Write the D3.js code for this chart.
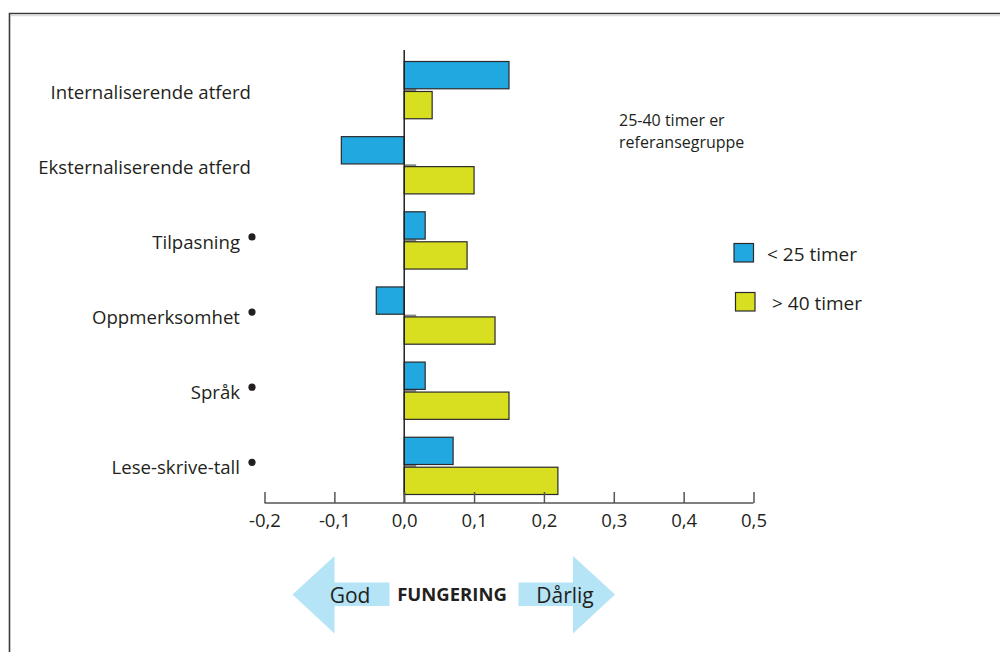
<!DOCTYPE html>
<html><head><meta charset="utf-8">
<script src="https://cdn.jsdelivr.net/npm/d3@7"></script>
<style>
html,body{margin:0;padding:0;background:#fff;}
svg text{font-family:"Open Sans","Noto Sans",sans-serif;fill:#231f20;}
</style></head>
<body><svg id="c" width="1000" height="652"></svg>
<script>
const categories = ["Internaliserende atferd","Eksternaliserende atferd","Tilpasning","Oppmerksomhet","Språk","Lese-skrive-tall"];
const marked = [false,false,true,true,true,true];
const seriesNames = ["< 25 timer","> 40 timer"];
const under25 = [0.15,-0.09,0.03,-0.04,0.03,0.07];
const over40 = [0.04,0.10,0.09,0.13,0.15,0.22];
const tickValues = [-0.2,-0.1,0.0,0.1,0.2,0.3,0.4,0.5];
const colors = ["#22a8e0","#d8df21"];

const svg = d3.select("#c");
// frame
svg.append("path").attr("d","M9.5,652 V13.5 H1000").attr("fill","none").attr("stroke","#3a3a3a").attr("stroke-width",1.6);
svg.append("line").attr("x1",11).attr("x2",1000).attr("y1",15.5).attr("y2",15.5).attr("stroke","#ddd").attr("stroke-width",1.5);

const x = d3.scaleLinear().domain([-0.2,0.5]).range([264.5,753.5]);
const y = d3.scaleBand().domain(categories).range([61.5,494.5]).paddingInner(0.238).paddingOuter(0);
const ySub = d3.scaleBand().domain(seriesNames).range([0,y.bandwidth()]).paddingInner(0.09);

const data = [];
categories.forEach((c,i)=>{
  data.push({cat:c,s:seriesNames[0],v:under25[i],col:colors[0]});
  data.push({cat:c,s:seriesNames[1],v:over40[i],col:colors[1]});
});

// small gray stubs between bars
svg.selectAll(".stub").data(categories).join("line")
  .attr("x1",x(0)).attr("x2",x(0)+12)
  .attr("y1",d=>y(d)+y.bandwidth()/2).attr("y2",d=>y(d)+y.bandwidth()/2)
  .attr("stroke","#888").attr("stroke-width",2);

svg.selectAll(".bar").data(data).join("rect")
  .attr("x",d=>x(Math.min(0,d.v)))
  .attr("width",d=>Math.abs(x(d.v)-x(0)))
  .attr("y",d=>y(d.cat)+ySub(d.s))
  .attr("height",ySub.bandwidth())
  .attr("fill",d=>d.col).attr("stroke","#2a2a2a").attr("stroke-width",1.2);

// zero line
svg.append("line").attr("x1",x(0)).attr("x2",x(0)).attr("y1",50).attr("y2",503)
  .attr("stroke","#231f20").attr("stroke-width",1.5);

// axis
const axis = d3.axisTop(x).tickValues(tickValues).tickSize(11).tickFormat(d=>d3.format(".1f")(d).replace(".",",").replace("−","-"));
const gx = svg.append("g").attr("transform","translate(0,503)").call(axis);
gx.select(".domain").attr("stroke","#555").attr("stroke-width",1.5).attr("d","M"+x(-0.2)+",0H"+x(0.5));
gx.selectAll(".tick line").attr("stroke","#555").attr("stroke-width",1.5);
gx.selectAll(".tick text").attr("y",18).attr("dy","0.35em").attr("font-size",18.5)
  .style("font-family",'"Open Sans",sans-serif').attr("fill","#231f20");

// category labels
svg.selectAll(".lab").data(categories).join("text")
  .attr("x",(d,i)=>marked[i]?240:251)
  .attr("y",d=>y(d)+y.bandwidth()/2+2)
  .attr("dy","0.35em").attr("text-anchor","end").attr("font-size",18.6)
  .text(d=>d);
svg.selectAll(".dot").data(categories.filter((d,i)=>marked[i])).join("circle")
  .attr("cx",252).attr("cy",d=>y(d)+y.bandwidth()/2-3.5).attr("r",3.6).attr("fill","#231f20");

// note
svg.append("text").attr("x",619).attr("y",120).attr("dy","0.35em").attr("font-size",16).text("25-40 timer er");
svg.append("text").attr("x",619).attr("y",142.5).attr("dy","0.35em").attr("font-size",16).text("referansegruppe");

// legend
const leg = [{x:734,y:243.5,tx:767,ty:254},{x:735.5,y:292.5,tx:772,ty:303.5}];
leg.forEach((l,i)=>{
  svg.append("rect").attr("x",l.x).attr("y",l.y).attr("width",19.5).attr("height",18.5)
    .attr("fill",colors[i]).attr("stroke","#2a2a2a").attr("stroke-width",1.2);
  svg.append("text").attr("x",l.tx).attr("y",l.ty).attr("dy","0.35em").attr("font-size",19).text(seriesNames[i]);
});

// arrows
const arrowCol = "#b4e4f6";
svg.append("path").attr("fill",arrowCol)
  .attr("d","M292.5,594.5 L334.5,556 L334.5,582.5 L389.5,582.5 L389.5,606 L334.5,606 L334.5,633.5 Z");
svg.append("path").attr("fill",arrowCol)
  .attr("d","M615,594.5 L573,556 L573,582.5 L518.5,582.5 L518.5,606 L573,606 L573,633.5 Z");
svg.append("text").attr("x",350).attr("y",596).attr("dy","0.35em").attr("text-anchor","middle").attr("font-size",21).text("God");
svg.append("text").attr("x",452).attr("y",595).attr("dy","0.35em").attr("text-anchor","middle").attr("font-size",18.5).attr("font-weight","bold").text("FUNGERING");
svg.append("text").attr("x",565).attr("y",596).attr("dy","0.35em").attr("text-anchor","middle").attr("font-size",21).text("Dårlig");
</script></body></html>
